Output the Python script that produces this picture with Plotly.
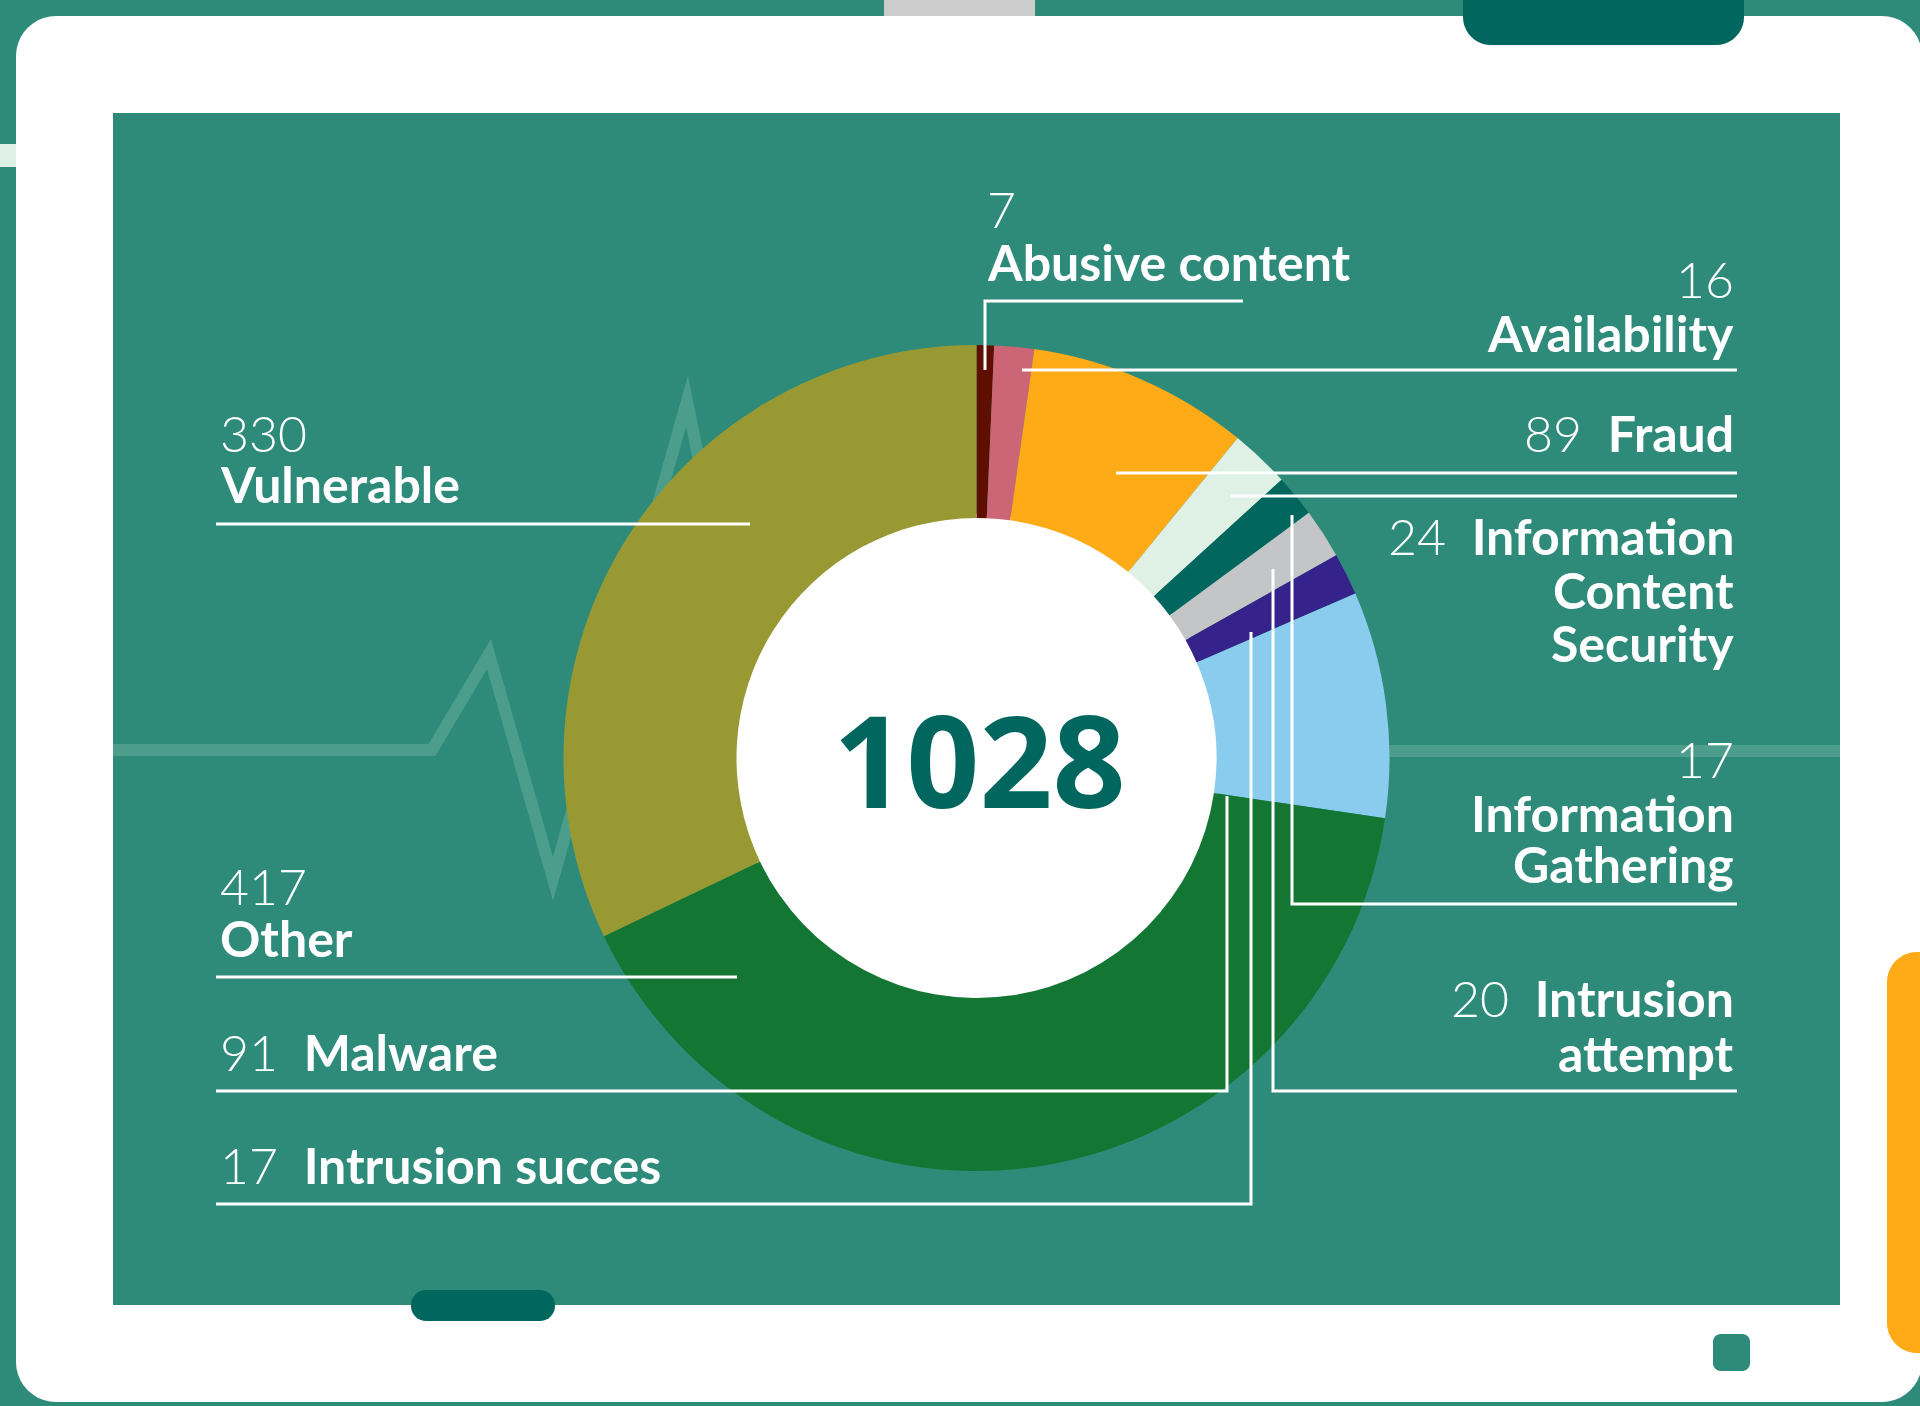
import math
import plotly.graph_objects as go

W, H = 1920, 1406

# ---------------- data ----------------
categories = ["Abusive content", "Availability", "Fraud", "Information Content Security",
              "Information Gathering", "Intrusion attempt", "Intrusion succes",
              "Malware", "Other", "Vulnerable"]
values = [7, 16, 89, 24, 17, 20, 17, 91, 417, 330]
slice_colors = ["#5E0F00", "#CC6677", "#FFAA17", "#DFF0E5", "#00665E",
                "#C4C5C7", "#35228A", "#89CCEE", "#137733", "#999933"]

TEAL = "#2E8B7A"
DARK = "#00665E"


def px(x):
    return x / W


def py(y):
    return 1 - y / H


def path_from(pts, close=True):
    s = "M " + " L ".join(f"{px(x):.6f},{py(y):.6f}" for x, y in pts)
    return s + (" Z" if close else "")


def rrect(x0, y0, x1, y1, r, n=10):
    pts = []
    corners = [(x1 - r, y0 + r, -90, 0), (x1 - r, y1 - r, 0, 90),
               (x0 + r, y1 - r, 90, 180), (x0 + r, y0 + r, 180, 270)]
    for ccx, ccy, a0, a1 in corners:
        for i in range(n + 1):
            a = math.radians(a0 + (a1 - a0) * i / n)
            pts.append((ccx + r * math.cos(a), ccy + r * math.sin(a)))
    return path_from(pts)


def offset_polyline(pts, d):
    segs = []
    for (x0, y0), (x1, y1) in zip(pts[:-1], pts[1:]):
        L = math.hypot(x1 - x0, y1 - y0)
        nx, ny = -(y1 - y0) / L, (x1 - x0) / L
        segs.append(((x0 + nx * d, y0 + ny * d), (x1 + nx * d, y1 + ny * d)))
    out = [segs[0][0]]
    for (a0, a1), (b0, b1) in zip(segs[:-1], segs[1:]):
        d1 = (a1[0] - a0[0], a1[1] - a0[1])
        d2 = (b1[0] - b0[0], b1[1] - b0[1])
        den = d1[0] * d2[1] - d1[1] * d2[0]
        if abs(den) < 1e-9:
            out.append(a1)
            continue
        t = ((b0[0] - a0[0]) * d2[1] - (b0[1] - a0[1]) * d2[0]) / den
        out.append((a0[0] + t * d1[0], a0[1] + t * d1[1]))
    out.append(segs[-1][1])
    return out


shapes = []
# white tablet frame
shapes.append(dict(type="path", path=rrect(16, 16, 1922, 1402, 40), fillcolor="white",
                   line=dict(width=0), layer="below"))
# light strip on the left
shapes.append(dict(type="rect", x0=px(0), x1=px(16), y0=py(167), y1=py(144),
                   fillcolor="#DFF0E6", line=dict(width=0), layer="below"))
# grey tab at top
shapes.append(dict(type="rect", x0=px(884), x1=px(1035), y0=py(16), y1=py(0),
                   fillcolor="#CCCCCC", line=dict(width=0), layer="below"))
# dark teal tab top-right
shapes.append(dict(type="path", path=rrect(1463, -40, 1744, 45, 28), fillcolor=DARK,
                   line=dict(width=0), layer="below"))
# screen
shapes.append(dict(type="rect", x0=px(113), x1=px(1840), y0=py(1305), y1=py(113),
                   fillcolor=TEAL, line=dict(width=0), layer="below"))
# bottom pill
shapes.append(dict(type="path", path=rrect(411, 1290, 555, 1321, 15), fillcolor=DARK,
                   line=dict(width=0), layer="below"))
# small square button
shapes.append(dict(type="path", path=rrect(1713, 1334, 1750, 1371, 8), fillcolor=TEAL,
                   line=dict(width=0), layer="below"))
# orange side element
shapes.append(dict(type="path", path=rrect(1887, 952, 1970, 1353, 30), fillcolor="#FFAA17",
                   line=dict(width=0), layer="below"))
# heartbeat line (drawn as a filled band with sharp joins)
hb = [(113, 750), (432, 750), (489, 654), (553, 879), (687, 401), (758, 751), (1840, 751)]
band = offset_polyline(hb, 6) + list(reversed(offset_polyline(hb, -6)))
shapes.append(dict(type="path", path=path_from(band), fillcolor="#4C9D8C",
                   line=dict(width=0), layer="below"))
# white centre behind the donut hole
cx, cy, R, r_in = 976.5, 758, 413, 240
shapes.append(dict(type="circle", x0=px(cx - r_in - 4), x1=px(cx + r_in + 4),
                   y0=py(cy + r_in + 4), y1=py(cy - r_in - 4),
                   fillcolor="white", line=dict(width=0), layer="below"))

# leader lines
leaders = [
    [(985, 370), (985, 301), (1243, 301)],            # Abusive content
    [(1022, 370), (1737, 370)],                        # Availability
    [(1116, 473), (1737, 473)],                        # Fraud
    [(1230, 496), (1737, 496)],                        # Info content security
    [(1292, 515), (1292, 904), (1737, 904)],           # Info gathering
    [(1273, 569), (1273, 1091), (1737, 1091)],         # Intrusion attempt
    [(1251, 632), (1251, 1204), (216, 1204)],          # Intrusion succes
    [(1227, 796), (1227, 1091), (216, 1091)],          # Malware
    [(737, 977), (216, 977)],                          # Other
    [(750, 524), (216, 524)],                          # Vulnerable
]
for ln in leaders:
    shapes.append(dict(type="path", path=path_from(ln, close=False),
                       line=dict(color="white", width=3), layer="above"))

fig = go.Figure()
fig.add_trace(go.Pie(
    labels=categories, values=values, sort=False, direction="clockwise", rotation=0,
    hole=r_in / R, textinfo="none", hoverinfo="label+value",
    marker=dict(colors=slice_colors, line=dict(width=0)),
    domain=dict(x=[px(cx - R), px(cx + R)], y=[py(cy + R), py(cy - R)]),
    showlegend=False,
))

FS = 50
annotations = []


def num(i):
    return f"<span style='font-weight:300'>{values[i]}</span>"


def bold(t):
    return f"<b>{t}</b>"


def ann(text, x, y, xanchor):
    annotations.append(dict(text=text, x=px(x), y=py(y - 1.5), xref="paper", yref="paper",
                            xanchor=xanchor, yanchor="middle", showarrow=False,
                            font=dict(family="Lato", size=FS, color="white")))


GAP = "\u00a0\u00a0"
# Abusive content (left aligned above the line)
ann(num(0), 985, 210, "left")
ann(bold(categories[0]), 985, 263, "left")
# Availability
ann(num(1), 1736, 280, "right")
ann(bold(categories[1]), 1736, 334, "right")
# Fraud
ann(num(2) + GAP + bold(categories[2]), 1736, 435, "right")
# Information Content Security
w = categories[3].split()
ann(num(3) + GAP + bold(w[0]), 1736, 537, "right")
ann(bold(w[1]), 1736, 592, "right")
ann(bold(w[2]), 1736, 644, "right")
# Information Gathering
w = categories[4].split()
ann(num(4), 1736, 760, "right")
ann(bold(w[0]), 1736, 814, "right")
ann(bold(w[1]), 1736, 865, "right")
# Intrusion attempt
w = categories[5].split()
ann(num(5) + GAP + bold(w[0]), 1736, 1000, "right")
ann(bold(w[1]), 1736, 1054, "right")
# Left side
ann(num(9), 218, 434, "left")
ann(bold(categories[9]), 218, 486, "left")
ann(num(8), 218, 887, "left")
ann(bold(categories[8]), 218, 939, "left")
ann(num(7) + GAP + bold(categories[7]), 218, 1053, "left")
ann(num(6) + GAP + bold(categories[6]), 218, 1166, "left")

# centre total
annotations.append(dict(text=f"{sum(values)}", x=px(980), y=py(758), xref="paper",
                        yref="paper", xanchor="center", yanchor="middle", showarrow=False,
                        font=dict(family="Open Sans", size=128, color=DARK, weight=700)))

fig.update_layout(
    width=W, height=H, margin=dict(l=0, r=0, t=0, b=0),
    paper_bgcolor=TEAL, plot_bgcolor=TEAL, showlegend=False,
    shapes=shapes, annotations=annotations,
)

fig.write_html("out.html", config={"displayModeBar": False},
               post_script="document.body.style.margin='0px';document.body.style.overflow='hidden';")
